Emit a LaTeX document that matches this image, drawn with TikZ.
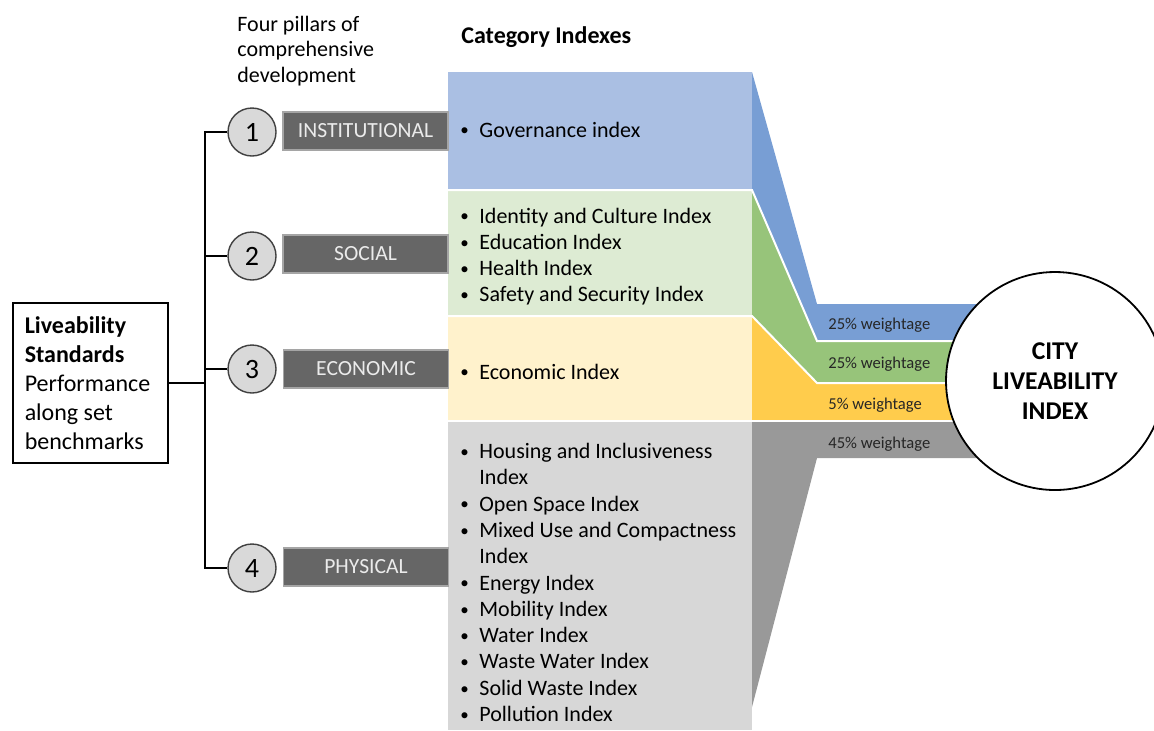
\documentclass[tikz,border=0pt]{standalone}
\usepackage{fontspec}
\setmainfont{Carlito}
\definecolor{bluebox}{RGB}{170,191,227}
\definecolor{blueband}{RGB}{120,158,212}
\definecolor{greenbox}{RGB}{221,235,211}
\definecolor{greenband}{RGB}{151,196,122}
\definecolor{yellowbox}{RGB}{255,242,204}
\definecolor{yellowband}{RGB}{255,204,76}
\definecolor{graybox}{RGB}{215,215,215}
\definecolor{grayband}{RGB}{153,153,153}
\definecolor{lblfill}{RGB}{102,102,102}
\definecolor{lblborder}{RGB}{165,165,165}
\definecolor{lbltext}{RGB}{235,235,235}
\definecolor{numfill}{RGB}{217,217,217}
\definecolor{numdraw}{RGB}{64,64,64}
\newcommand{\bul}{\hspace*{1.5pt}\raisebox{0.6pt}{\fontsize{8.5}{9}\selectfont\textbullet}}
\newcommand{\blist}[1]{\begin{tabular}[t]{@{}p{11pt}@{}l@{}}#1\end{tabular}}
\newcommand{\plines}[1]{\begin{tabular}[t]{@{}l@{}}#1\end{tabular}}
\begin{document}
\begin{tikzpicture}[x=0.5pt,y=-0.5pt,
  lbl/.style={fill=lblfill, draw=lblborder, line width=0.75pt, text=lbltext,
    font=\fontsize{10.8}{13}\selectfont, minimum width=82.5pt, minimum height=19pt, inner sep=0pt},
  num/.style={circle, fill=numfill, draw=numdraw, line width=0.7pt, minimum size=24pt,
    inner sep=0pt, font=\fontsize{14}{16}\selectfont},
  listtxt/.style={anchor=base west, inner sep=0pt, font=\fontsize{11}{13.15}\selectfont},
  wt/.style={anchor=base west, inner sep=0pt, text=black!85, font=\fontsize{8.3}{10}\selectfont},
  conn/.style={line width=0.75pt, black},
  sep/.style={white, line width=1pt}]
\clip (0,0) rectangle (1154,730);

% headings
\node[anchor=base west, inner sep=0pt, font=\fontsize{11}{12.75}\selectfont] (pillars) at (237,31)
  {\plines{Four pillars of\\comprehensive\\development}};
\node[anchor=base west, inner sep=0pt, font=\bfseries\fontsize{12}{14}\selectfont] (cathead) at (461,43) {Category Indexes};

% category boxes
\fill[bluebox] (448,72) rectangle (752,190);
\fill[greenbox] (448,190) rectangle (752,316);
\fill[yellowbox] (448,316) rectangle (752,421);
\fill[graybox] (448,421) rectangle (752,730);

% ribbons
\fill[blueband] (752,72) -- (817,304) -- (1000,304) -- (1000,341) -- (817,341) -- (752,190) -- cycle;
\fill[greenband] (752,190) -- (817,341) -- (1000,341) -- (1000,383) -- (817,383) -- (752,316) -- cycle;
\fill[yellowband] (752,316) -- (817,383) -- (1000,383) -- (1000,421) -- (752,421) -- cycle;
\fill[grayband] (752,421) -- (1000,421) -- (1000,458) -- (817,458) -- (752,707) -- cycle;

% separators
\draw[sep] (448,190) -- (752,190) -- (817,341) -- (1000,341);
\draw[sep] (448,316) -- (752,316) -- (817,383) -- (1000,383);
\draw[sep] (448,421) -- (1000,421);

% lists
\node[listtxt] (gov) at (457,137) {\blist{\bul & Governance index}};
\node[listtxt] (soc) at (457,223) {\blist{\bul & Identity and Culture Index\\
  \bul & Education Index\\ \bul & Health Index\\ \bul & Safety and Security Index}};
\node[listtxt] (eco) at (457,379) {\blist{\bul & Economic Index}};
\node[listtxt] (phy) at (457,458.5) {\blist{\bul & Housing and Inclusiveness\\ & Index\\
  \bul & Open Space Index\\ \bul & Mixed Use and Compactness\\ & Index\\
  \bul & Energy Index\\ \bul & Mobility Index\\ \bul & Water Index\\
  \bul & Waste Water Index\\ \bul & Solid Waste Index\\ \bul & Pollution Index}};

% weightages
\node[wt] (w1) at (828,329) {25\% weightage};
\node[wt] (w2) at (828,368) {25\% weightage};
\node[wt] (w3) at (828,409) {5\% weightage};
\node[wt] (w4) at (828,448) {45\% weightage};

% city liveability index
\node[circle, draw=black, line width=0.9pt, fill=white, minimum size=109pt, inner sep=0pt,
  align=center, font=\bfseries\fontsize{12.8}{15}\selectfont] (cli) at (1055,381)
  {CITY\\LIVEABILITY\\INDEX};

% pillars
\node[num] (n1) at (252,132) {1};
\node[num] (n2) at (252,256) {2};
\node[num] (n3) at (252,369) {3};
\node[num] (n4) at (252,568) {4};
\node[lbl] (l1) at (365.5,131) {INSTITUTIONAL};
\node[lbl] (l2) at (365.5,254) {SOCIAL};
\node[lbl] (l3) at (366,369) {ECONOMIC};
\node[lbl] (l4) at (366,567) {PHYSICAL};

% liveability standards
\node[draw=black, line width=0.75pt, anchor=north west, minimum height=80pt,
  inner xsep=6pt, inner ysep=0pt, font=\fontsize{12}{14.5}\selectfont] (lv) at (12,302)
  {\begin{tabular}[t]{@{}p{65.5pt}@{}}\rule{0pt}{13.35pt}\textbf{Liveability}\\\textbf{Standards}\\Performance\\along set\\benchmarks\end{tabular}};

% connectors
\coordinate (trunk) at (205,132);
\draw[conn] (n1.west) -- (n1.west -| trunk) -- (n4.west -| trunk) -- (n4.west);
\draw[conn] (n2.west) -- (n2.west -| trunk);
\draw[conn] (n3.west) -- (n3.west -| trunk);
\draw[conn] (lv.east) -- (lv.east -| trunk);
\end{tikzpicture}
\end{document}
